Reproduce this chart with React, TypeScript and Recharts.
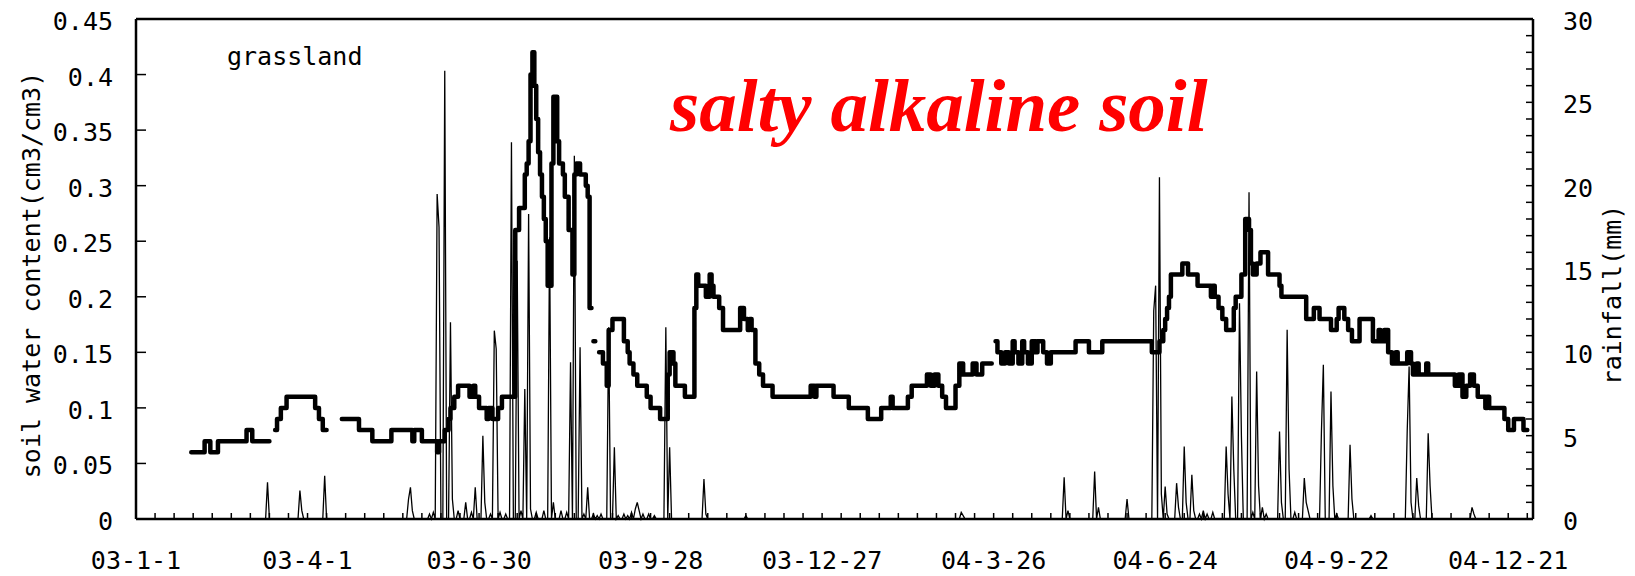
import { ComposedChart, Line, XAxis, YAxis, ReferenceLine } from 'recharts'

// day 0 = 2003-01-01, a label every 90 days
const dateLabels = ['03-1-1', '03-4-1', '03-6-30', '03-9-28', '03-12-27', '04-3-26', '04-6-24', '04-9-22', '04-12-21']
const labelDays = [0, 90, 180, 270, 360, 450, 540, 630, 720]
const swcTicks = [0, 0.05, 0.1, 0.15, 0.2, 0.25, 0.3, 0.35, 0.4, 0.45]
const rainTicks = Array.from({ length: 31 }, (_, i) => i)
const dayTicks = Array.from({ length: 74 }, (_, i) => i * 10)

// soil water content (cm3/cm3), [day, value] where the value changes; each array is one unbroken piece
const swcSeg1 = [[29, 0.06], [36, 0.07], [39, 0.06], [43, 0.07], [58, 0.08], [61, 0.07], [70, 0.07]]
const swcSeg2 = [[73, 0.08], [74, 0.09], [76, 0.1], [79, 0.11], [94, 0.1], [96, 0.09], [98, 0.08], [100, 0.08]]
const swcSeg3 = [
  [108, 0.09], [117, 0.08], [124, 0.07], [134, 0.08], [145, 0.07], [146, 0.08], [150, 0.07], [158, 0.06],
  [159, 0.07], [162, 0.08], [164, 0.09], [165, 0.1], [167, 0.11], [169, 0.12], [175, 0.11], [177, 0.12],
  [178, 0.11], [180, 0.1], [184, 0.09], [185, 0.1], [187, 0.09], [190, 0.1], [192, 0.11], [199, 0.26],
  [201, 0.28], [204, 0.31], [205, 0.32], [206, 0.34], [207, 0.4], [208, 0.42], [209, 0.39], [210, 0.36],
  [211, 0.33], [212, 0.31], [213, 0.29], [214, 0.27], [215, 0.25], [216, 0.21], [218, 0.32], [219, 0.38],
  [221, 0.34], [222, 0.32], [224, 0.31], [225, 0.29], [227, 0.26], [229, 0.22], [230, 0.31], [231, 0.32],
  [233, 0.31], [236, 0.3], [237, 0.29], [238, 0.19], [239, 0.19],
]
const swcDot = [[240, 0.16], [241, 0.16]]
const swcSeg4 = [
  [243, 0.15], [245, 0.14], [247, 0.12], [248, 0.17], [250, 0.18], [256, 0.16], [258, 0.15], [259, 0.14],
  [261, 0.13], [263, 0.12], [268, 0.11], [270, 0.1], [275, 0.09], [279, 0.13], [280, 0.15], [282, 0.14],
  [283, 0.12], [288, 0.11], [293, 0.19], [294, 0.22], [295, 0.21], [299, 0.2], [301, 0.22], [302, 0.21],
  [303, 0.2], [306, 0.19], [308, 0.17], [317, 0.19], [319, 0.18], [321, 0.17], [322, 0.18], [323, 0.17],
  [325, 0.14], [327, 0.13], [329, 0.12], [334, 0.11], [354, 0.12], [356, 0.11], [357, 0.12], [366, 0.11],
  [374, 0.1], [384, 0.09], [391, 0.1], [396, 0.11], [397, 0.1], [405, 0.11], [407, 0.12], [415, 0.13],
  [417, 0.12], [419, 0.13], [421, 0.12], [423, 0.11], [425, 0.1], [430, 0.12], [432, 0.14], [434, 0.13],
  [439, 0.14], [441, 0.13], [444, 0.14], [449, 0.14],
]
const swcSeg5 = [
  [451, 0.16], [452, 0.15], [454, 0.14], [456, 0.15], [458, 0.14], [460, 0.16], [461, 0.15], [463, 0.14],
  [465, 0.16], [466, 0.15], [468, 0.14], [470, 0.16], [472, 0.15], [473, 0.16], [476, 0.15], [478, 0.14],
  [480, 0.15], [493, 0.16], [500, 0.15], [507, 0.16], [533, 0.15], [537, 0.16], [539, 0.17], [540, 0.18],
  [541, 0.19], [542, 0.2], [543, 0.22], [549, 0.23], [552, 0.22], [557, 0.21], [564, 0.2], [565, 0.21],
  [566, 0.2], [568, 0.19], [570, 0.18], [572, 0.17], [576, 0.19], [577, 0.2], [580, 0.22], [582, 0.27],
  [584, 0.26], [585, 0.23], [586, 0.22], [588, 0.23], [590, 0.24], [594, 0.22], [600, 0.21], [601, 0.2],
  [614, 0.18], [618, 0.19], [621, 0.18], [627, 0.17], [630, 0.18], [631, 0.19], [634, 0.18], [636, 0.17],
  [638, 0.16], [642, 0.18], [649, 0.16], [652, 0.17], [653, 0.16], [655, 0.17], [657, 0.15], [659, 0.14],
  [661, 0.15], [662, 0.14], [667, 0.15], [669, 0.14], [670, 0.13], [672, 0.14], [673, 0.13], [677, 0.14],
  [678, 0.13], [692, 0.12], [694, 0.13], [696, 0.11], [698, 0.12], [700, 0.13], [702, 0.12], [704, 0.11],
  [708, 0.1], [709, 0.11], [710, 0.1], [718, 0.09], [720, 0.08], [723, 0.09], [728, 0.08], [730, 0.08],
]

// daily rainfall (mm), only the rainy days; every other day is 0
const rainEvents = [
  [69, 2.2], [86, 1.7], [87, 0.5], [99, 2.6], [143, 1.2], [144, 1.9], [145, 0.5], [154, 0.3], [156, 0.4],
  [158, 19.5], [159, 17.5], [162, 26.9], [165, 11.8], [166, 1.2], [169, 0.5], [173, 1.0], [176, 0.4],
  [178, 1.9], [182, 5.0], [183, 1.0], [186, 0.3], [188, 11.3], [189, 10.2], [191, 0.4], [194, 0.3],
  [197, 22.6], [200, 15.5], [202, 0.5], [204, 7.8], [206, 18.3], [207, 0.6], [210, 0.4], [214, 0.5],
  [217, 16.9], [219, 1.0], [223, 0.5], [226, 0.4], [228, 9.4], [230, 21.8], [233, 10.3], [235, 0.3],
  [237, 1.9], [240, 0.3], [242, 0.2], [244, 0.3], [248, 11.5], [251, 4.3], [253, 0.2], [256, 0.3],
  [258, 0.2], [260, 0.4], [262, 0.6], [263, 1.0], [264, 0.5], [266, 0.3], [269, 0.3], [272, 0.2],
  [278, 11.5], [280, 4.3], [298, 2.4], [299, 0.3], [320, 0.2], [433, 0.4], [434, 0.2], [487, 2.5],
  [489, 0.5], [503, 2.85], [505, 0.7], [520, 1.2], [534, 12.5], [535, 14.0], [537, 20.5], [538, 1.5],
  [540, 1.95], [541, 0.3], [546, 2.15], [547, 0.7], [550, 4.35], [551, 1.0], [554, 2.65], [555, 0.5],
  [558, 0.3], [560, 0.5], [562, 0.3], [565, 0.4], [572, 4.35], [573, 1.5], [575, 7.35], [576, 3.0],
  [579, 12.95], [580, 5.0], [584, 19.6], [586, 0.4], [588, 8.85], [589, 2.0], [591, 0.7], [593, 0.3],
  [600, 5.25], [601, 1.0], [604, 11.35], [605, 3.0], [608, 0.4], [613, 2.46], [614, 1.0], [615, 0.5],
  [622, 5.3], [623, 9.25], [627, 7.65], [628, 2.0], [630, 0.3], [637, 4.45], [638, 1.2], [648, 0.2],
  [667, 5.3], [668, 9.15], [669, 1.0], [672, 2.46], [673, 0.8], [678, 5.15], [679, 2.0], [701, 0.7],
  [702, 0.3],
]

const MONO = '"DejaVu Sans Mono", monospace'

const rainByDay = new Map(rainEvents.map(([d, v]) => [d, v]))
const rainData = Array.from({ length: 732 }, (_, d) => ({ day: d, rain: rainByDay.get(d) ?? 0 }))

const swcPieces = [swcSeg1, swcSeg2, swcSeg3, swcDot, swcSeg4, swcSeg5]
const swcData: { day: number; swc: number | null }[] = []
swcPieces.forEach((seg, i) => {
  if (i > 0) swcData.push({ day: seg[0][0] - 0.5, swc: null })
  seg.forEach(([d, v]) => swcData.push({ day: d, swc: v }))
})

const LeftTick = (props: any) => {
  const { x, y, payload } = props
  return (
    <g>
      <line x1={x} x2={x + 10} y1={y} y2={y} stroke="#000" strokeWidth={1.5} />
      <text x={x - 23} y={y + 11} textAnchor="end" fontFamily={MONO} fontSize={25} fill="#000">
        {payload.value}
      </text>
    </g>
  )
}

const RightTick = (props: any) => {
  const { x, y, payload } = props
  return (
    <g>
      <line x1={x - 7} x2={x} y1={y} y2={y} stroke="#000" strokeWidth={1.5} />
      {payload.value % 5 === 0 && (
        <text x={x + 30} y={y + 11} textAnchor="start" fontFamily={MONO} fontSize={25} fill="#000">
          {payload.value}
        </text>
      )}
    </g>
  )
}

const DayTick = (props: any) => {
  const { x, y, payload } = props
  const idx = labelDays.indexOf(payload.value)
  return (
    <g>
      <line x1={x} x2={x} y1={y} y2={y - 6} stroke="#000" strokeWidth={1.5} />
      {idx >= 0 && (
        <text x={x} y={y + 50} textAnchor="middle" fontFamily={MONO} fontSize={25} fill="#000">
          {dateLabels[idx]}
        </text>
      )}
    </g>
  )
}

export default function App() {
  return (
    <div style={{ position: 'absolute', left: 0, top: 0, width: 1635, height: 576, background: '#fff' }}>
      <ComposedChart width={1635} height={576} data={rainData} margin={{ top: 19, right: 0, bottom: 0, left: 0 }}>
        <XAxis
          dataKey="day"
          type="number"
          domain={[0, 733]}
          ticks={dayTicks}
          interval={0}
          height={57}
          tickSize={0}
          tickMargin={0}
          tickLine={false}
          axisLine={{ stroke: '#000', strokeWidth: 2.5 }}
          tick={<DayTick />}
        />
        <YAxis
          yAxisId="swc"
          domain={[0, 0.45]}
          ticks={swcTicks}
          interval={0}
          width={136}
          tickSize={0}
          tickMargin={0}
          tickLine={false}
          axisLine={{ stroke: '#000', strokeWidth: 2.5 }}
          tick={<LeftTick />}
        />
        <YAxis
          yAxisId="rain"
          orientation="right"
          domain={[0, 30]}
          ticks={rainTicks}
          interval={0}
          width={102}
          tickSize={0}
          tickMargin={0}
          tickLine={false}
          axisLine={{ stroke: '#000', strokeWidth: 2.5 }}
          tick={<RightTick />}
        />
        <ReferenceLine yAxisId="swc" y={0.45} stroke="#000" strokeWidth={2.5} />
        <Line
          yAxisId="swc"
          data={swcData}
          dataKey="swc"
          type="stepAfter"
          stroke="#000"
          strokeWidth={4.5}
          strokeLinejoin="round"
          strokeLinecap="round"
          dot={false}
          activeDot={false}
          isAnimationActive={false}
        />
        <Line
          yAxisId="rain"
          dataKey="rain"
          type="linear"
          stroke="#000"
          strokeWidth={1.3}
          dot={false}
          activeDot={false}
          isAnimationActive={false}
        />
      </ComposedChart>
      <svg width={1635} height={576} style={{ position: 'absolute', left: 0, top: 0, pointerEvents: 'none' }}>
        <text x={227} y={65} fontFamily={MONO} fontSize={25} fill="#000">grassland</text>
        <text
          x={670}
          y={131}
          fontFamily='"Liberation Serif", "Times New Roman", serif'
          fontSize={75}
          fontWeight="bold"
          fontStyle="italic"
          fill="#ff0000"
        >
          salty alkaline soil
        </text>
        <text
          transform="translate(40 275) rotate(-90)"
          textAnchor="middle"
          fontFamily={MONO}
          fontSize={25}
          fill="#000"
        >
          soil water content(cm3/cm3)
        </text>
        <text
          transform="translate(1621 295) rotate(-90)"
          textAnchor="middle"
          fontFamily={MONO}
          fontSize={25}
          fill="#000"
        >
          rainfall(mm)
        </text>
      </svg>
    </div>
  )
}
